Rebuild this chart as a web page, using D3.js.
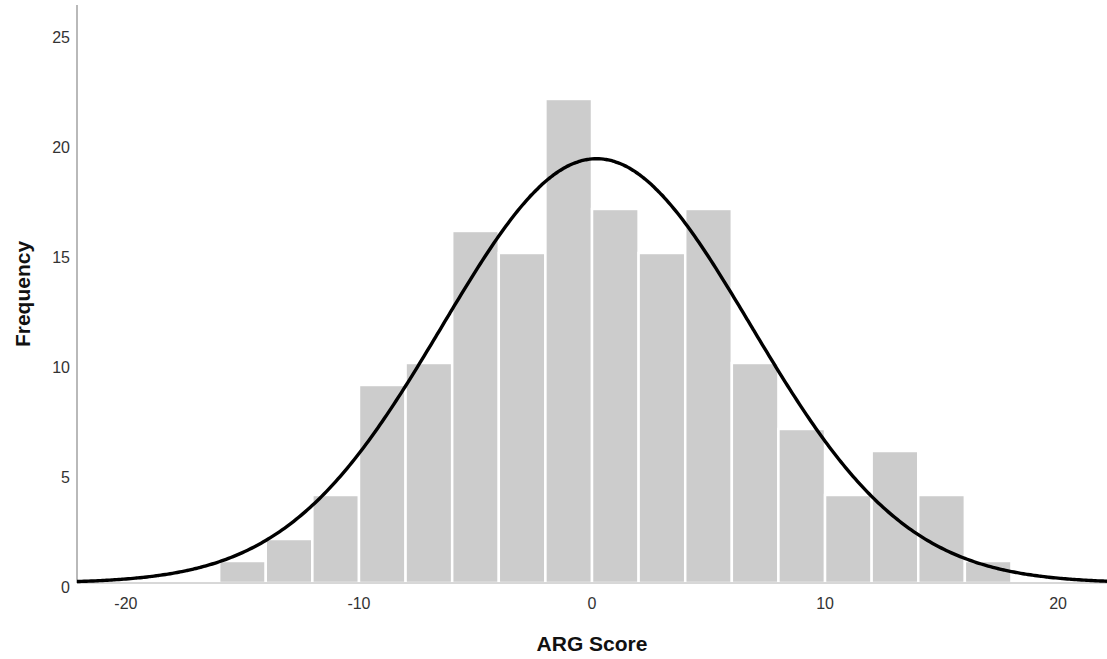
<!DOCTYPE html>
<html>
<head>
<meta charset="utf-8">
<script src="https://cdn.jsdelivr.net/npm/d3@7"></script>
<style>
  body { margin: 0; background: #fff; }
  svg text { font-family: "Liberation Sans", Arial, sans-serif; }
</style>
</head>
<body>
<div id="chart"></div>
<script>
// Histogram bins (lower edge, width 2) and counts
const binStarts = [-16, -14, -12, -10, -8, -6, -4, -2, 0, 2, 4, 6, 8, 10, 12, 14, 16];
const counts    = [1, 2, 4, 9, 10, 16, 15, 22, 17, 15, 17, 10, 7, 4, 6, 4, 1];
const binWidth = 2;
const xTicks = [-20, -10, 0, 10, 20];
const yTicks = [0, 5, 10, 15, 20, 25];
// fitted normal curve parameters
const fitMean = 0.2;
const fitSd = 6.62;

const width = 1107, height = 659;
const margin = {top: 5, right: 0, bottom: 76, left: 77};
const innerW = width - margin.left - margin.right;
const innerH = height - margin.top - margin.bottom;

const svg = d3.select("#chart").append("svg")
    .attr("width", width)
    .attr("height", height);

const g = svg.append("g")
    .attr("transform", "translate(" + margin.left + "," + margin.top + ")");

const x = d3.scaleLinear()
    .domain([-22.1, 22.1])
    .range([0, innerW]);

const y = d3.scaleLinear()
    .domain([0, 26.27])
    .range([innerH, 0]);

const bins = binStarts.map((b, i) => ({x0: b, x1: b + binWidth, n: counts[i]}));

// bars
g.selectAll(".bar")
    .data(bins)
    .enter().append("rect")
    .attr("class", "bar")
    .attr("x", d => x(d.x0))
    .attr("width", d => x(d.x1) - x(d.x0))
    .attr("y", d => y(d.n))
    .attr("height", d => y(0) - y(d.n))
    .attr("fill", "#cccccc")
    .attr("stroke", "#ffffff")
    .attr("stroke-width", 2.5);

// axes lines
g.append("line")
    .attr("x1", 0).attr("x2", innerW)
    .attr("y1", innerH).attr("y2", innerH)
    .attr("stroke", "#b0b0b0").attr("stroke-width", 1);

g.append("line")
    .attr("x1", 0).attr("x2", 0)
    .attr("y1", 0).attr("y2", innerH)
    .attr("stroke", "#8a8a8a").attr("stroke-width", 1.2);

// normal curve
const total = d3.sum(counts);
const scaleK = total * binWidth / (fitSd * Math.sqrt(2 * Math.PI));
const curveXs = d3.range(x.domain()[0], x.domain()[1] + 0.001, 0.1);
const line = d3.line()
    .x(d => x(d))
    .y(d => y(scaleK * Math.exp(-0.5 * Math.pow((d - fitMean) / fitSd, 2))))
    .curve(d3.curveBasis);

g.append("path")
    .datum(curveXs)
    .attr("fill", "none")
    .attr("stroke", "#000")
    .attr("stroke-width", 3.4)
    .attr("d", line);

// tick labels
g.selectAll(".xlab")
    .data(xTicks)
    .enter().append("text")
    .attr("x", d => x(d))
    .attr("y", innerH + 26)
    .attr("text-anchor", "middle")
    .attr("font-size", 16)
    .attr("fill", "#333")
    .text(d => d);

g.selectAll(".ylab")
    .data(yTicks)
    .enter().append("text")
    .attr("x", -7)
    .attr("y", d => y(d) + 10)
    .attr("text-anchor", "end")
    .attr("font-size", 16)
    .attr("fill", "#333")
    .text(d => d);

// axis titles
svg.append("text")
    .attr("x", margin.left + x(0))
    .attr("y", 651)
    .attr("text-anchor", "middle")
    .attr("font-size", 21)
    .attr("font-weight", "bold")
    .attr("fill", "#111")
    .text("ARG Score");

svg.append("text")
    .attr("transform", "translate(30,294) rotate(-90)")
    .attr("text-anchor", "middle")
    .attr("font-size", 21)
    .attr("font-weight", "bold")
    .attr("fill", "#111")
    .text("Frequency");
</script>
</body>
</html>
